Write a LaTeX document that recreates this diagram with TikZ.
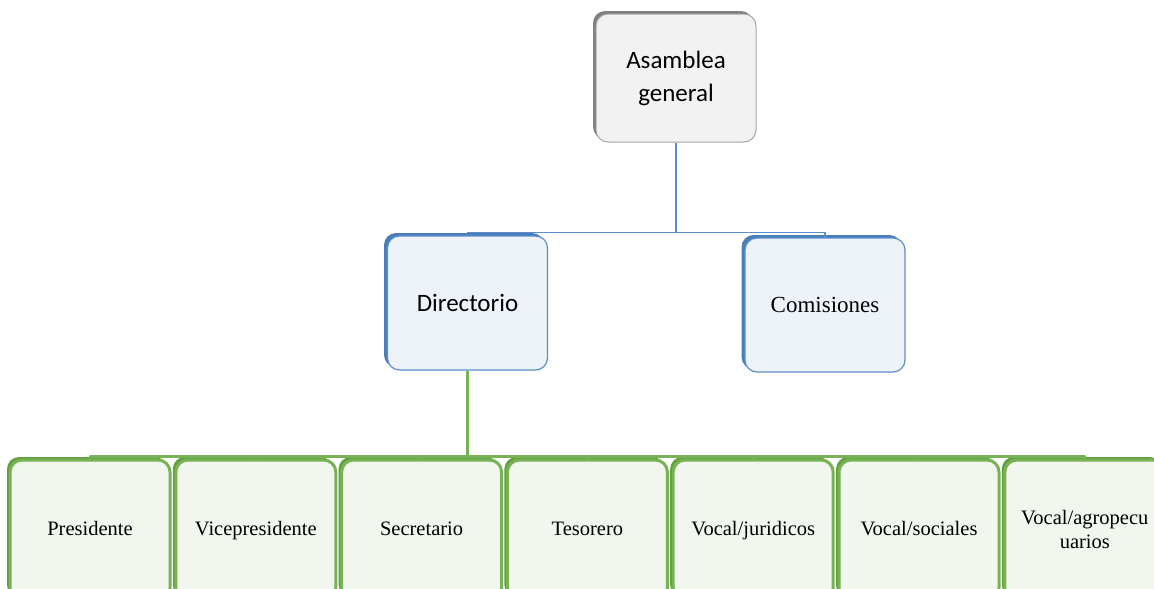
\documentclass[tikz,border=0pt]{standalone}
\usepackage{fontspec}
\setmainfont{Liberation Serif}
\newfontfamily\calfont{Carlito}
\definecolor{grisB}{HTML}{A6A6A6}
\definecolor{grisF}{HTML}{F2F2F2}
\definecolor{grisS}{HTML}{808080}
\definecolor{azulB}{HTML}{5B8FCB}
\definecolor{azulF}{HTML}{EEF3FA}
\definecolor{azulS}{HTML}{4A7EBB}
\definecolor{verdeB}{HTML}{77B255}
\definecolor{verdeF}{HTML}{F1F6EE}
\definecolor{verdeS}{HTML}{62A03E}
\tikzset{
  caja/.style={draw, rounded corners=12pt, minimum width=160pt, inner sep=0pt},
  gris/.style={caja, draw=grisB, fill=grisF, line width=1pt, minimum height=128pt,
    preaction={fill=grisS, transform canvas={shift={(-3pt,3pt)}}}},
  azul/.style={caja, draw=azulB, fill=azulF, line width=1.2pt, minimum height=134pt,
    preaction={fill=azulS, transform canvas={shift={(-3.5pt,3pt)}}}},
  verde/.style={caja, draw=verdeB, fill=verdeF, line width=3pt, minimum height=140pt,
    text width=150pt, align=center, font=\fontsize{20.5}{24}\selectfont,
    text height=14pt, text depth=4pt,
    preaction={fill=verdeS, transform canvas={shift={(-3pt,3pt)}}}},
  lazul/.style={draw=azulB, line width=1.6pt},
  lverde/.style={draw=verdeB, line width=2.6pt}
}
\begin{document}
\begin{tikzpicture}[x=1pt, y=-1pt, line join=round]
	\def\dx{165.8} % paso entre cajas
	\useasboundingbox (0,0) rectangle (1154,589);
	\clip (0,0) rectangle (1154,589);
	\node[gris, align=center, font=\calfont\fontsize{25}{33}\selectfont] (asam) at (676,78) {Asamblea\\general};
	\node[azul, font=\calfont\fontsize{25}{30}\selectfont] (dir) at (467.5,303) {Directorio};
	\node[azul, font=\fontsize{23}{26}\selectfont] (com) at (825,305) {Comisiones};
	\foreach \t [count=\i] in {Presidente, Vicepresidente, Secretario, Tesorero, Vocal/juridicos, Vocal/sociales}
		\node[verde] (c\i) at ({90+\dx*(\i-1)},530) {\t};
	\node[verde, text depth=26pt] (c7) at ({90+\dx*6},530) {Vocal/agropecu\\uarios};
	% conectores
	\draw[lazul] (asam.south) -- ++(0,90) coordinate (busA);
	\draw[lazul] (busA) -| (dir.north);
	\draw[lazul] (busA) -| (com.north);
	\draw[lverde] (dir.south) -- ++(0,86) coordinate (busD);
	\foreach \i in {1,...,7}
		\draw[lverde] (busD) -| (c\i.north);
\end{tikzpicture}
\end{document}
